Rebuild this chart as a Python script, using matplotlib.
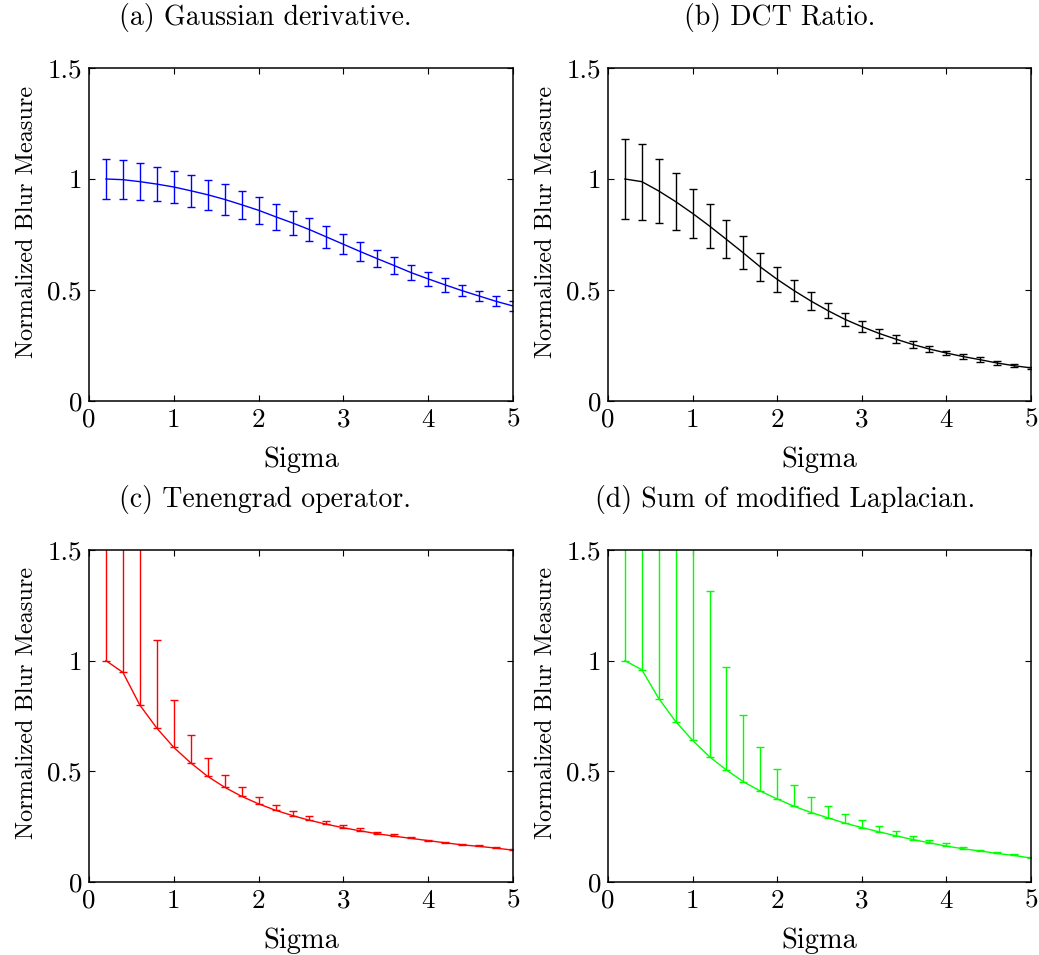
import numpy as np
import matplotlib
matplotlib.use("Agg")
import matplotlib.pyplot as plt

plt.rcParams['font.family'] = 'cmr10'
plt.rcParams['mathtext.fontset'] = 'cm'
plt.rcParams['axes.formatter.use_mathtext'] = True
plt.rcParams['font.size'] = 17

# sigma values shared by all four panels
sigma = [0.2, 0.4, 0.6, 0.8, 1.0, 1.2, 1.4, 1.6, 1.8, 2.0, 2.2, 2.4, 2.6,
         2.8, 3.0, 3.2, 3.4, 3.6, 3.8, 4.0, 4.2, 4.4, 4.6, 4.8, 5.0]

# (a) Gaussian derivative: mean and symmetric error
gauss_mean = [1.0, 0.997, 0.988, 0.977, 0.964, 0.947, 0.929, 0.908, 0.884,
              0.859, 0.830, 0.802, 0.772, 0.739, 0.706, 0.673, 0.641, 0.610,
              0.578, 0.550, 0.523, 0.497, 0.473, 0.449, 0.428]
gauss_err = [0.089, 0.087, 0.082, 0.077, 0.074, 0.073, 0.068, 0.068, 0.064,
             0.060, 0.058, 0.054, 0.051, 0.048, 0.044, 0.042, 0.039, 0.0375,
             0.033, 0.031, 0.031, 0.026, 0.023, 0.0225, 0.022]

# (b) DCT ratio
dct_mean = [1.0, 0.988, 0.946, 0.898, 0.845, 0.788, 0.728, 0.667, 0.604,
            0.548, 0.497, 0.450, 0.407, 0.368, 0.335, 0.305, 0.279, 0.255,
            0.234, 0.216, 0.200, 0.186, 0.171, 0.159, 0.149]
dct_err = [0.181, 0.171, 0.144, 0.127, 0.112, 0.099, 0.086, 0.074, 0.064,
           0.056, 0.047, 0.040, 0.034, 0.029, 0.024, 0.021, 0.018, 0.016,
           0.0135, 0.011, 0.011, 0.010, 0.007, 0.0075, 0.005]

# (c) Tenengrad: mean and upper end of the error bar
ten_mean = [1.0, 0.947, 0.799, 0.695, 0.608, 0.538, 0.477, 0.428, 0.387,
            0.353, 0.324, 0.300, 0.279, 0.261, 0.245, 0.231, 0.218, 0.207,
            0.197, 0.187, 0.177, 0.168, 0.161, 0.153, 0.144]
ten_upper = [2.4, 2.1, 1.8, 1.092, 0.821, 0.664, 0.559, 0.485, 0.429,
             0.386, 0.350, 0.321, 0.296, 0.276, 0.257, 0.242, 0.227, 0.215,
             0.203, 0.191, 0.182, 0.173, 0.165, 0.156, 0.147]

# (d) Sum of modified Laplacian
sml_mean = [1.0, 0.959, 0.829, 0.725, 0.640, 0.566, 0.506, 0.453, 0.411,
            0.375, 0.342, 0.314, 0.290, 0.266, 0.246, 0.227, 0.209, 0.192,
            0.177, 0.162, 0.150, 0.140, 0.129, 0.120, 0.108]
sml_upper = [3.2, 2.9, 2.5, 2.1, 1.7, 1.315, 0.970, 0.754, 0.611,
             0.512, 0.440, 0.386, 0.344, 0.309, 0.278, 0.253, 0.229, 0.210,
             0.192, 0.174, 0.159, 0.146, 0.135, 0.125, 0.113]

titles = ['(a) Gaussian derivative.', '(b) DCT Ratio.',
          '(c) Tenengrad operator.', '(d) Sum of modified Laplacian.']
xticks = [0, 1, 2, 3, 4, 5]
yticks = [0, 0.5, 1, 1.5]
ytick_labels = ['0', '0.5', '1', '1.5']

W, H = 1039, 955
fig = plt.figure(figsize=(W / 100, H / 100), dpi=100)

boxes = [(89, 513, 68, 401), (608, 1031, 68, 401),
         (89, 513, 550, 882), (608, 1031, 550, 882)]
# sub-captions are centred on the whole sub-figure, not the axes
caption_pos = [(265, 18), (780, 18), (265, 500), (785, 500)]
ylabel_x = [38, 557, 38, 557]
axes = []
for (x0, x1, y0, y1) in boxes:
    axes.append(fig.add_axes([x0 / W, 1 - y1 / H, (x1 - x0) / W, (y1 - y0) / H]))

s = np.array(sigma)
data = [
    (gauss_mean, [gauss_err, gauss_err], 'blue'),
    (dct_mean, [dct_err, dct_err], 'black'),
    (ten_mean, [np.zeros(len(sigma)), np.array(ten_upper) - np.array(ten_mean)], 'red'),
    (sml_mean, [np.zeros(len(sigma)), np.array(sml_upper) - np.array(sml_mean)], '#00ff00'),
]

for i, ax in enumerate(axes):
    m, err, c = data[i]
    ax.errorbar(s, m, yerr=err, color=c, lw=1.0, elinewidth=1.0,
                capsize=2.8, capthick=1.0)
    ax.set_xlim(0, 5)
    ax.set_ylim(0, 1.5)
    ax.set_xticks(xticks)
    ax.set_xticklabels([str(v) for v in xticks])
    ax.set_yticks(yticks)
    ax.set_yticklabels(ytick_labels)
    ax.tick_params(direction='in', top=True, right=True, length=4, width=0.8,
                   labelsize=19.5, pad=5)
    for sp in ax.spines.values():
        sp.set_linewidth(1.1)
    ax.set_xlabel('Sigma', fontsize=20.5, labelpad=11)
    ax.set_ylabel('Normalized Blur Measure', fontsize=17.5)
    x0, x1, y0, y1 = boxes[i]
    ax.yaxis.set_label_coords((ylabel_x[i] - x0) / (x1 - x0), 0.538)
    cx, cy = caption_pos[i]
    fig.text(cx / W, 1 - cy / H, titles[i], fontsize=20, ha='center', va='center')

fig.savefig('out.png', dpi=100)
